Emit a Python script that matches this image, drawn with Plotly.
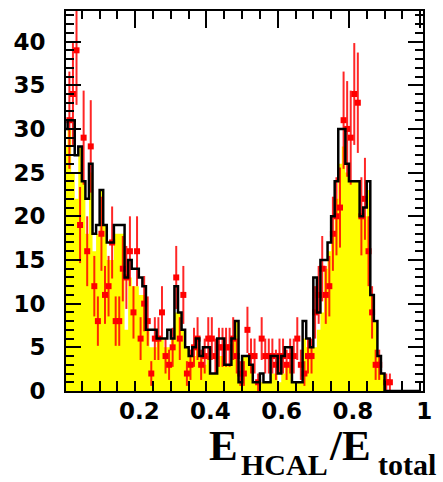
import numpy as np
import plotly.graph_objects as go

# Binning of the E_HCAL / E_total distribution
n_bins = 100
x_lo, x_hi = 0.0, 1.0

# Total simulation (black outline histogram), counts per bin
mc_total = [
    30, 31, 31, 27, 28, 24, 22, 26, 18, 19,
    23, 19, 17, 17, 19, 19, 19, 13, 15, 14,
    14, 13, 12, 7, 7, 7, 6, 6, 6, 7,
    6, 12, 9, 7, 5, 4, 5, 6, 4, 5,
    5, 2, 2, 6, 6, 3, 3, 6, 8, 1,
    4, 4, 3, 1, 1, 2, 1, 1, 4, 4,
    2, 4, 5, 5, 1, 1, 1, 8, 6, 5,
    13, 9, 15, 15, 17, 20, 24, 30, 30, 26,
    24, 24, 24, 20, 21, 24, 11, 8, 4, 2,
    0, 0, 0, 0, 0, 0, 0, 0, 0, 0,
]

# Signal simulation (yellow filled histogram), counts per bin
mc_signal = [
    28, 30, 25, 22, 28, 24, 18, 25, 16, 18,
    23, 19, 15, 15, 18, 18, 18, 7, 13, 12,
    12, 11, 11, 7, 5, 5, 6, 6, 5, 5,
    6, 9, 9, 7, 5, 4, 4, 5, 4, 3,
    4, 2, 2, 4, 4, 3, 3, 6, 8, 1,
    4, 4, 3, 1, 1, 1, 1, 1, 2, 2,
    1, 2, 3, 3, 1, 1, 1, 6, 5, 5,
    5, 7, 9, 14, 16, 18, 22, 26, 28, 25,
    24, 24, 24, 20, 20, 23, 11, 8, 4, 2,
    0, 0, 0, 0, 0, 0, 0, 0, 0, 0,
]

# Measured events per bin
data_counts = [
    0, 31, 34, 39, 19, 29, 16, 28, 12, 8,
    18, 11, 12, 17, 8, 8, 14, 13, 16, 9,
    16, 6, 10, 8, 2, 6, 6, 9, 4, 3,
    5, 13, 6, 11, 2, 3, 5, 6, 3, 4,
    6, 6, 4, 5, 5, 5, 5, 6, 4, 2,
    2, 7, 4, 4, 1, 6, 4, 4, 4, 3,
    4, 4, 3, 4, 4, 6, 3, 2, 4, 4,
    9, 11, 14, 11, 12, 18, 20, 21, 31, 30,
    29, 34, 33, 20, 22, 16, 9, 3, 3, 0,
    1, 1, 0, 0, 0, 0, 0, 0, 0, 0,
]

x_tick_vals = [0.2, 0.4, 0.6, 0.8, 1.0]
x_tick_text = ["0.2", "0.4", "0.6", "0.8", "1"]

edges = np.linspace(x_lo, x_hi, n_bins + 1)
centers = 0.5 * (edges[:-1] + edges[1:])
half_width = 0.5 * (edges[1] - edges[0])


def step(vals):
    return list(edges), list(vals) + [vals[-1]]


counts = np.array(data_counts, dtype=float)
has_data = counts > 0

fig = go.Figure()

sx, sy = step(mc_signal)
fig.add_trace(go.Scatter(
    x=sx, y=sy, mode="lines", line_shape="hv",
    line=dict(width=0, color="#FFFF00"),
    fill="tozeroy", fillcolor="#FFFF00", hoverinfo="skip",
))

tx, ty = step(mc_total)
fig.add_trace(go.Scatter(
    x=tx, y=ty, mode="lines", line_shape="hv", xaxis="x2",
    line=dict(width=2.5, color="black"), hoverinfo="skip",
))

err_col = "rgba(255,0,0,0.85)"
fig.add_trace(go.Scatter(
    x=centers[has_data], y=counts[has_data], mode="markers",
    marker=dict(symbol="square", size=6, color="red"),
    error_y=dict(type="data", array=np.sqrt(counts[has_data]),
                 thickness=2, width=0, color=err_col),
    error_x=dict(type="constant", value=half_width,
                 thickness=2, width=0, color=err_col),
))

x_range = [0.0055, 1.008]
tick_font = dict(family="DejaVu Sans", size=23, color="black", weight="bold")

fig.update_layout(
    width=443, height=482,
    margin=dict(l=66, r=12, t=11, b=91),
    paper_bgcolor="white", plot_bgcolor="white",
    showlegend=False,
    xaxis=dict(
        range=x_range, showgrid=False, zeroline=False,
        showline=True, linecolor="black", linewidth=2,
        ticks="inside", ticklen=10, tickwidth=1.5, tickcolor="black",
        tickvals=x_tick_vals, ticktext=x_tick_text,
        minor=dict(dtick=0.05, tick0=0, ticks="inside", ticklen=10,
                   tickwidth=1.5, tickcolor="black", showgrid=False),
        tickfont=tick_font, ticklabelshift=4, ticklabelstandoff=-2,
    ),
    xaxis2=dict(
        range=x_range, overlaying="x", side="top",
        showgrid=False, zeroline=False,
        showline=True, linecolor="black", linewidth=2,
        ticks="inside", ticklen=17, tickwidth=1.5, tickcolor="black",
        tickvals=x_tick_vals, showticklabels=False,
        minor=dict(dtick=0.05, tick0=0, ticks="inside", ticklen=8,
                   tickwidth=1.5, tickcolor="black", showgrid=False),
    ),
    yaxis=dict(
        range=[0, 43.5], showgrid=False, zeroline=False,
        showline=True, linecolor="black", linewidth=2, mirror="ticks",
        ticks="inside", ticklen=15, tickwidth=1.5, tickcolor="black",
        tick0=0, dtick=5,
        minor=dict(dtick=1, ticks="inside", ticklen=8,
                   tickwidth=1.5, tickcolor="black", showgrid=False),
        tickfont=tick_font, ticklabelstandoff=14,
    ),
)

# Axis title E_HCAL / E_total, set in large bold serif with lowered subscripts
serif = "Liberation Serif"
title_parts = [
    ("E", 43, 142, -30),
    ("HCAL", 30, 174, -56),
    ("/E", 43, 262, -30),
    ("total", 30, 311, -56),
]
for txt, size, dx, dy in title_parts:
    fig.add_annotation(
        text=txt, xref="paper", yref="paper", x=0, y=0,
        xanchor="left", yanchor="top", xshift=dx, yshift=dy,
        showarrow=False, borderpad=0,
        font=dict(family=serif, size=size, color="black", weight="bold"),
    )

fig.write_html("out.html")
